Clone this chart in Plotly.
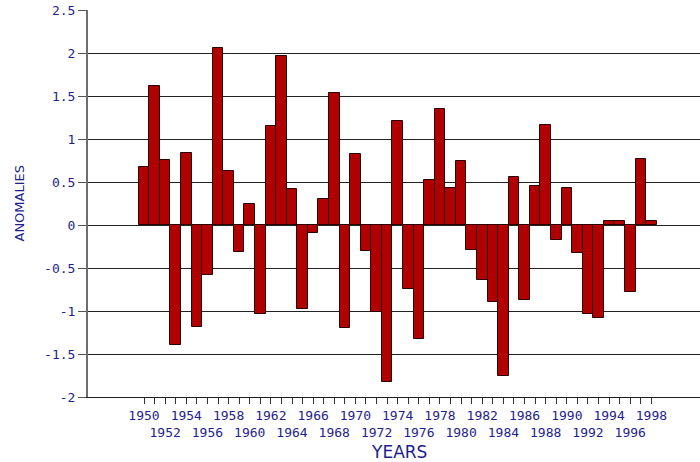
import plotly.graph_objects as go

years = list(range(1950, 1999))
anomalies = [0.68, 1.62, 0.76, -1.39, 0.84, -1.19, -0.58, 2.06, 0.63, -0.31,
             0.24, -1.03, 1.15, 1.96, 0.42, -0.98, -0.09, 0.30, 1.53, -1.20,
             0.82, -0.30, -1.01, -1.82, 1.21, -0.74, -1.32, 0.52, 1.35, 0.43,
             0.75, -0.29, -0.64, -0.90, -1.76, 0.56, -0.87, 0.45, 1.16, -0.17,
             0.43, -0.32, -1.04, -1.08, 0.05, 0.05, -0.78, 0.77, 0.05]
upper_row_labels = ["1950", "1954", "1958", "1962", "1966", "1970", "1974",
                    "1978", "1982", "1986", "1990", "1994", "1998"]
lower_row_labels = ["1952", "1956", "1960", "1964", "1968", "1972", "1976",
                    "1980", "1984", "1988", "1992", "1996"]
y_ticks = [2.5, 2, 1.5, 1, 0.5, 0, -0.5, -1, -1.5, -2]
y_tick_labels = ["2.5", "2", "1.5", "1", "0.5", "0", "-0.5", "-1", "-1.5", "-2"]

tick_text = []
for y in years:
    s = str(y)
    if s in upper_row_labels:
        tick_text.append(s)
    elif s in lower_row_labels:
        tick_text.append("<br>" + s)
    else:
        tick_text.append("")

navy = "#1e1e8c"
fig = go.Figure()
fig.add_trace(go.Bar(
    x=years, y=anomalies, width=1,
    marker=dict(color="#b00000", line=dict(color="#2a0000", width=1)),
))

W, H = 700, 462
ml, mr, mt, mb = 88, 0, 10, 65
pw, ph = W - ml - mr, H - mt - mb

fig.update_layout(
    width=W, height=H,
    margin=dict(l=ml, r=mr, t=mt, b=mb),
    paper_bgcolor="white", plot_bgcolor="white",
    showlegend=False, bargap=0,
    font=dict(family="DejaVu Sans Mono", size=13, color=navy),
    xaxis=dict(
        range=[1944.7, 2002.6],
        tickmode="array", tickvals=years, ticktext=tick_text,
        tickangle=0,
        ticks="outside", ticklen=6, tickcolor="#333", tickwidth=1,
        showgrid=False, zeroline=False,
        showline=True, linecolor="#222", linewidth=1,
        tickfont=dict(family="DejaVu Sans Mono", size=13, color=navy),
    ),
    yaxis=dict(
        range=[-2, 2.5],
        tickmode="array", tickvals=y_ticks, ticktext=y_tick_labels,
        ticks="outside", ticklen=8, tickcolor="#555", tickwidth=1,
        showgrid=True, gridcolor="#222", gridwidth=1,
        zeroline=False,
        showline=True, linecolor="#6e6e6e", linewidth=2,
        tickfont=dict(family="DejaVu Sans Mono", size=13, color=navy),
    ),
    annotations=[
        dict(text="YEARS", xref="paper", yref="paper",
             x=(399 - ml) / pw, y=-(452 - (mt + ph)) / ph,
             xanchor="center", yanchor="middle", showarrow=False,
             font=dict(family="DejaVu Sans", size=17, color=navy)),
        dict(text="ANOMALIES", xref="paper", yref="paper",
             x=(19 - ml) / pw, y=0.5, textangle=-90,
             xanchor="center", yanchor="middle", showarrow=False,
             font=dict(family="DejaVu Sans", size=13, color=navy)),
    ],
)

fig.write_html("out.html",
               config={"displayModeBar": False},
               post_script="document.body.style.margin='0';document.body.style.overflow='hidden';")
